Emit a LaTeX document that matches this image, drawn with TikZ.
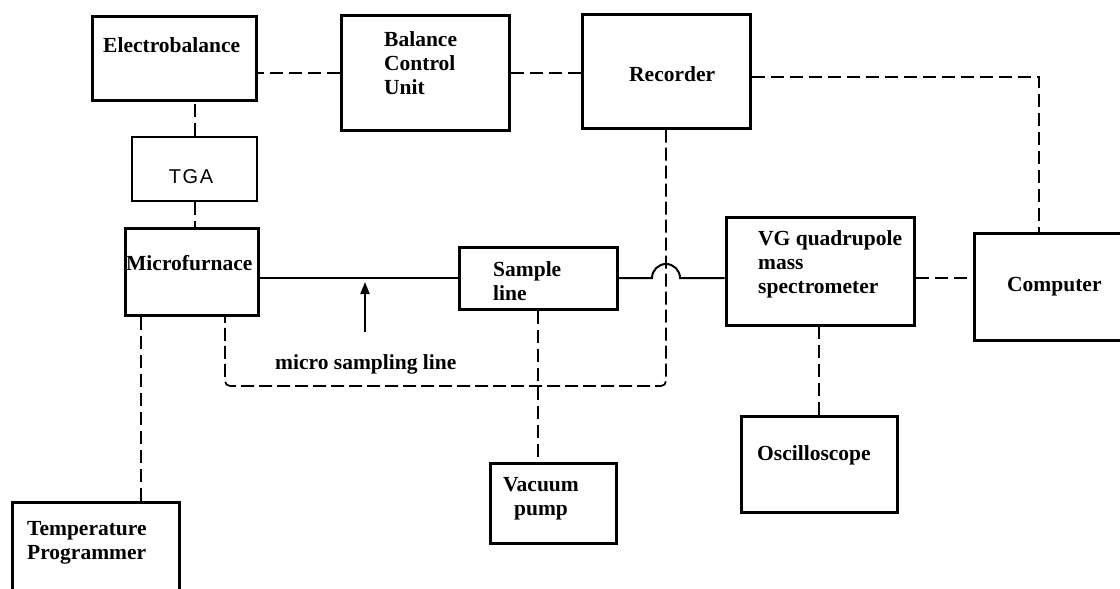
\documentclass[tikz,border=0pt]{standalone}
\usepackage{fontspec}
\setmainfont{Liberation Serif}
\newfontfamily\tgafont[LetterSpace=8]{Liberation Sans}
\usetikzlibrary{arrows.meta,calc}
\tikzset{
  box/.style={draw=black, line width=3pt, rectangle, inner sep=0pt},
  thinbox/.style={draw=black, line width=2pt, rectangle, inner sep=0pt},
  lbl/.style={inner sep=0pt, font=\bfseries\fontsize{21.5}{24}\selectfont, align=left},
  conn/.style={line width=2pt, dash pattern=on 13pt off 6pt},
  conn2/.style={line width=1.7pt, dash pattern=on 13pt off 5pt},
  pipe/.style={line width=2pt},
}
\begin{document}
\begin{tikzpicture}[x=1pt,y=-1pt]
\path[use as bounding box] (0,0) rectangle (1120,589);
\clip (0,0) rectangle (1120,589);
\fill[white] (0,0) rectangle (1120,589);

% boxes
\node[box, minimum width=164pt, minimum height=84pt] (elec) at (174,58) {};
\node[box, minimum width=168pt, minimum height=115pt] (bcu) at (425,72.5) {};
\node[box, minimum width=168pt, minimum height=114pt] (rec) at (666,71) {};
\node[thinbox, minimum width=125pt, minimum height=64pt] (tga) at (194.5,169) {};
\node[box, minimum width=133pt, minimum height=87pt] (mf) at (191.5,271.5) {};
\node[box, minimum width=158pt, minimum height=62pt] (sl) at (538,278) {};
\node[box, minimum width=188pt, minimum height=108pt] (vg) at (820,271) {};
\node[box, minimum width=166pt, minimum height=107pt] (comp) at (1057,286.5) {};
\node[box, minimum width=156pt, minimum height=96pt] (osc) at (819,464) {};
\node[box, minimum width=126pt, minimum height=80pt] (vac) at (553,503) {};
\node[box, minimum width=167pt, minimum height=98pt] (tp) at (95.5,551) {};

% labels
\node[lbl, anchor=west] (elecT) at (103,45) {Electrobalance};
\node[lbl, anchor=west] (bcuT) at (384,63) {Balance\\Control\\Unit};
\node[lbl, anchor=west] (recT) at (629,74) {Recorder};
\node[inner sep=0pt, font=\tgafont\fontsize{20}{22}\selectfont] (tgaT) at (191,177) {TGA};
\node[lbl, anchor=west] (mfT) at (126,263) {Microfurnace};
\node[lbl, anchor=west] (slT) at (493,281) {Sample\\line};
\node[lbl, anchor=west] (vgT) at (758,264) {VG quadrupole\\mass\\spectrometer};
\node[lbl, anchor=west] (compT) at (1007,287) {Computer};
\node[lbl, anchor=west] (oscT) at (757,455) {Oscilloscope};
\node[lbl, align=center] (vacT) at (541,499) {Vacuum\\pump};
\node[lbl, anchor=west] (tpT) at (27,543) {Temperature\\Programmer};
\node[lbl, anchor=west] (mslT) at (275,364) {micro sampling line};

% connectors
\draw[conn] (bcu.west) -- (bcu.west -| elec.east);
\draw[conn] (bcu.east) -- (bcu.east -| rec.west);
\draw[conn] ([yshift=-6pt]rec.east) -| ([xshift=-18pt]comp.north);
\draw[conn] (tga.north) -- (tga.north |- elec.south);
\draw[conn] (tga.south) -- (tga.south |- mf.north);
\draw[pipe] (sl.west) -- (sl.west -| mf.east);
\coordinate (hopc) at (sl.east -| rec.south);
\draw[pipe] (sl.east) -- ($(hopc)+(-14,0)$) arc[start angle=180, end angle=0, radius=14pt] -- (sl.east -| vg.west);
\coordinate (loopc) at (225,386);
\draw[conn2, rounded corners=5pt] (rec.south) |- (loopc) -- (loopc |- mf.south);
\coordinate (mftp) at ($(mf.south west)+(17,0)$);
\draw[conn] (mftp) -- (mftp |- tp.north);
\draw[conn] (sl.south) -- (sl.south |- vac.north);
\coordinate (vgcp) at ($(vg.east)+(0,7)$);
\draw[conn] (vgcp) -- (vgcp -| comp.west);
\draw[conn] (osc.north) -- (osc.north |- vg.south);
\coordinate (arrt) at ($(mslT.north west)+(90,-22)$);
\draw[line width=2pt, -{Triangle[width=9pt,length=12pt]}] (arrt) -- ($(arrt |- sl.west)+(0,4)$);
\end{tikzpicture}
\end{document}
